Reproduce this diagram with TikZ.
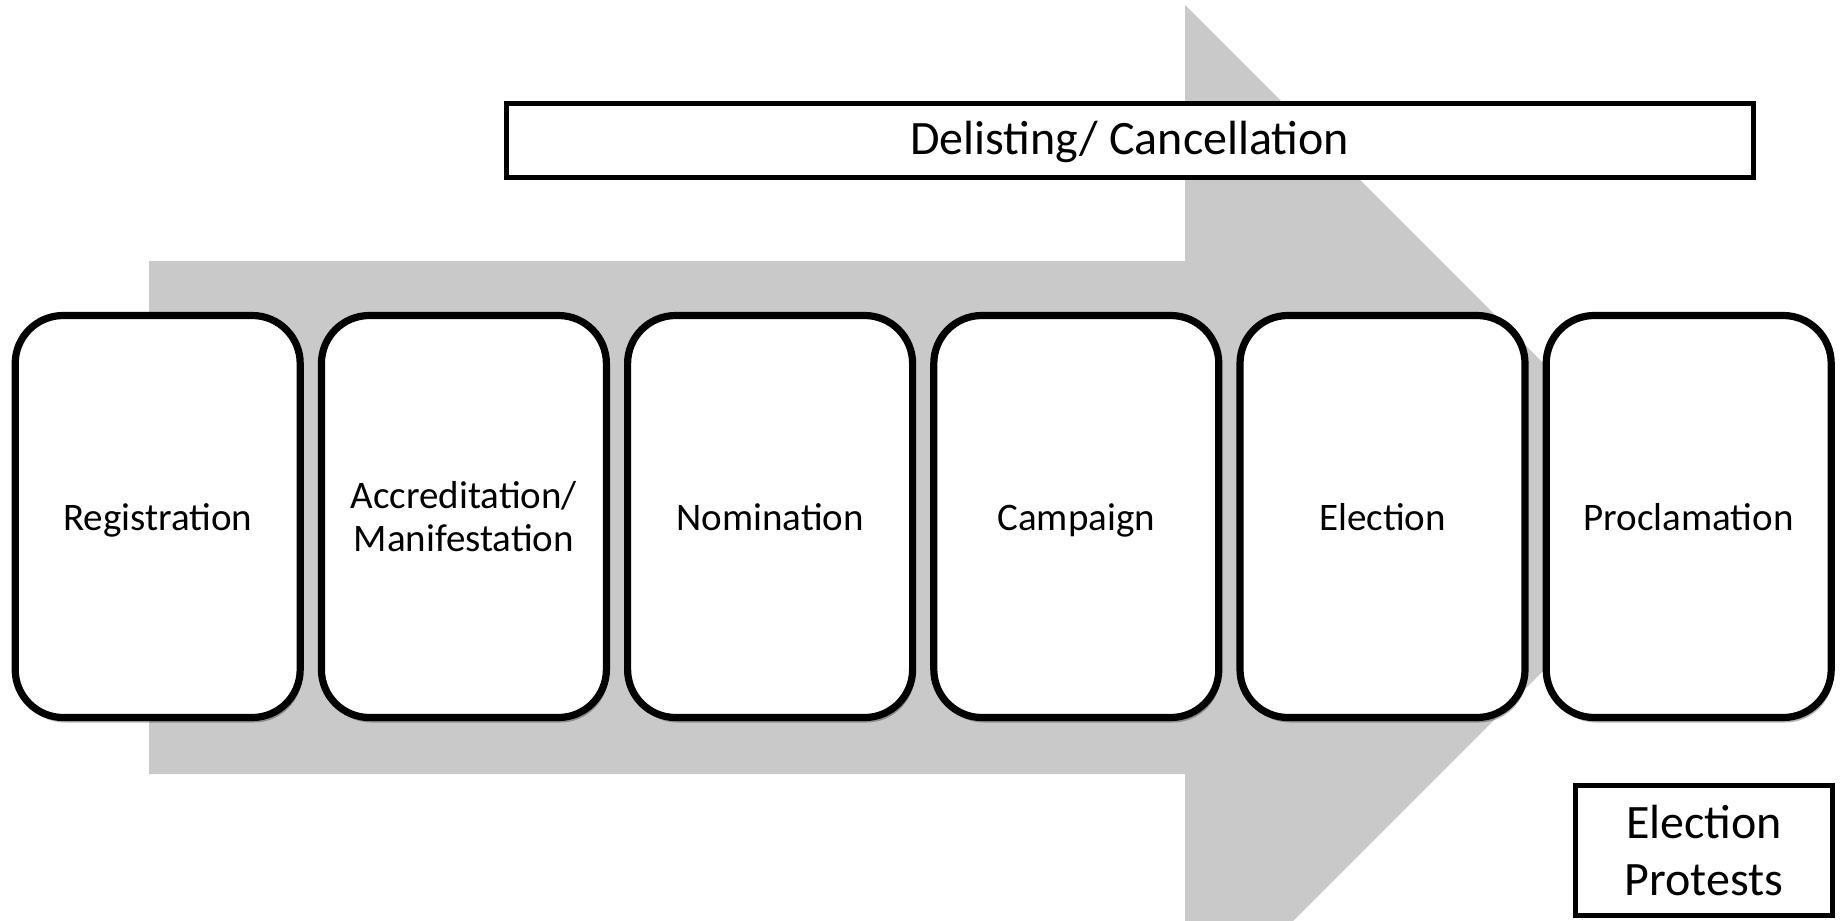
\documentclass[tikz,border=0pt]{standalone}
\usepackage{fontspec}
\setmainfont{Carlito}
\usetikzlibrary{positioning,shadows}
\definecolor{arrowgray}{RGB}{201,201,201}

\begin{document}
\begin{tikzpicture}[x=0.5pt, y=-0.5pt,
    stage/.style={draw, line width=3.6pt, fill=white, rounded corners=24pt,
        minimum width=142.5pt, minimum height=201pt, inner sep=0pt, align=center,
        font=\fontsize{19.5}{21.75}\selectfont,
        drop shadow={shadow xshift=1pt, shadow yshift=-2.5pt, opacity=0.3, fill=black}},
    oneline/.style={text height=13.5pt, text depth=0pt},
    tag/.style={draw, line width=2.5pt, fill=white, inner sep=0pt, align=center,
        font=\fontsize{24}{28.5}\selectfont}]
    \useasboundingbox (0,0) rectangle (1845,920);
    \clip (0,0) rectangle (1845,920);

    % Big process arrow in the back
    \fill[arrowgray] (149,261) -- (1185,261) -- (1185,5) -- (1697,517)
        -- (1185,1029) -- (1185,774) -- (149,774) -- cycle;

    % Stages, left to right
    \node[stage, oneline] (reg) at (157.7,516.5) {Registration};
    \node[stage, right=7pt of reg] (accr) {Accreditation/\\Manifestation};
    \node[stage, oneline, right=7pt of accr] (nom) {Nomination};
    \node[stage, oneline, right=7pt of nom] (camp) {Campaign};
    \node[stage, oneline, right=7pt of camp] (elec) {Election};
    \node[stage, oneline, right=7pt of elec] (procl) {Proclamation};

    % Boxes spanning the process
    \node[tag, minimum width=623.5pt, minimum height=37pt, text height=14.5pt, text depth=0pt] (delist) at (1129.6,140.5) {Delisting/ Cancellation};
    \node[tag, minimum width=128.5pt, minimum height=65pt] (protest) at (1704,850.5) {Election\\Protests};
\end{tikzpicture}
\end{document}
